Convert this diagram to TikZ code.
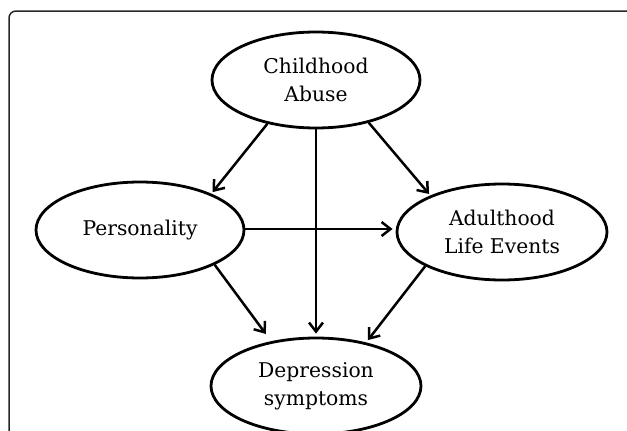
\documentclass[tikz,border=0pt]{standalone}
\usepackage{fontspec}
\setmainfont{DejaVu Serif}
\usetikzlibrary{arrows.meta,shapes.geometric}
\begin{document}
\begin{tikzpicture}[x=1pt,y=-1pt,
 ell/.style={draw=black, ellipse, line width=2.8pt, minimum width=208pt, minimum height=96pt,
   inner sep=0pt, align=center, font=\fontsize{20.3}{28}\selectfont, text=black},
 arr/.style={line width=2.5pt, black, -{Straight Barb[length=9pt,width=14pt]}}]
\useasboundingbox (0,0) rectangle (627,431);
\clip (0,0) rectangle (627,431);
\draw[line width=1.5pt, black!85, rounded corners=7pt] (9,445) -- (9,11) -- (640,11);
\node[ell] (ca) at (316,80) {Childhood\\Abuse};
\node[ell] (p) at (140,230) {Personality};
\node[ell, minimum width=210pt] (ad) at (502,232) {Adulthood\\Life Events};
\node[ell, minimum width=210pt] (dep) at (316,386) {Depression\\symptoms};
\draw[arr, shorten >=2pt] (ca.222) -- (p.27);
\draw[arr, shorten >=3pt] (ca.south) -- (dep.north);
\draw[arr, shorten >=2pt] (ca.-39.6) -- (ad.153.4);
\draw[arr, shorten >=3pt] (p.east |- 0,229) -- (ad.west |- 0,229);
\draw[arr, shorten >=9pt] (p.-25.9) -- (dep.135.6);
\draw[arr, shorten >=3pt] (ad.204) -- (dep.41.4);
\end{tikzpicture}
\end{document}
